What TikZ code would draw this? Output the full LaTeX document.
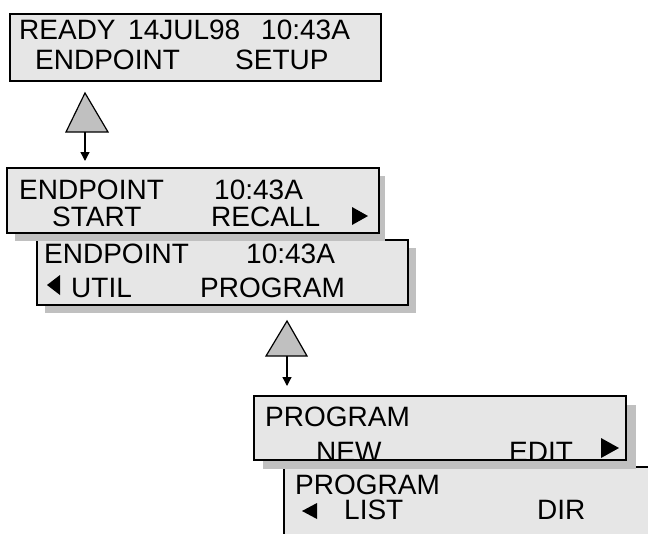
\documentclass[tikz,border=0pt]{standalone}
\usepackage{fontspec}
\setmainfont{Liberation Sans}
\usetikzlibrary{arrows.meta}
\definecolor{lcdfill}{HTML}{E6E6E6}
\definecolor{shade}{HTML}{C0C0C0}
\begin{document}
\begin{tikzpicture}[x=1pt,y=-1pt,
  lcd/.style={fill=lcdfill,draw=black,line width=1.6pt},
  lcdshadow/.style={fill=shade,draw=none},
  txt/.style={anchor=base west,inner sep=0pt,text height=20pt,text depth=0pt,
    font=\fontsize{28}{30}\selectfont},
  navtri/.style={fill=shade,draw=black,line width=1.2pt,line join=miter},
  downarrow/.style={line width=1.3pt,-{Triangle[width=9pt,length=9pt]}},
  cursor/.style={fill=black,draw=none}]
\useasboundingbox (0,0) rectangle (648,533);
\clip (0,0) rectangle (648,533);

% Box 1
\draw[lcd] (10,14) rectangle (381,81);
\node[txt] (b1a) at (19,39) {READY};
\node[txt] (b1b) at (128,39) {14JUL98};
\node[txt] (b1c) at (261,39) {10:43A};
\node[txt] (b1d) at (35,69) {ENDPOINT};
\node[txt] (b1e) at (235,69) {SETUP};

% navigation 1
\draw[navtri] (85,93) -- (108,132) -- (66,132) -- cycle;
\coordinate (t1) at (85,132);
\coordinate (t1end) at (85,161);
\draw[downarrow] (t1) -- (t1end);

% Box 3 (behind box 2)
\fill[lcdshadow] (45,248) rectangle (416,313);
\fill[lcdfill] (37,240) rectangle (408,305);
\node[txt] (b3a) at (44,263) {ENDPOINT};
\node[txt] (b3b) at (246,263) {10:43A};
\fill[cursor] (47,285) -- (60,275) -- (60,295) -- cycle;
\node[txt] (b3c) at (71,297) {UTIL};
\node[txt] (b3d) at (200,297) {PROGRAM};
\draw[lcd,fill=none] (37,240) rectangle (408,305);

% Box 2
\fill[lcdshadow] (15,176) rectangle (385,241);
\fill[lcdfill] (7,168) rectangle (379,233);
\node[txt] (b2a) at (19,199) {ENDPOINT};
\node[txt] (b2b) at (214,199) {10:43A};
\node[txt] (b2c) at (52,226) {START};
\node[txt] (b2d) at (211,226) {RECALL};
\fill[cursor] (368,216) -- (352,207) -- (352,225) -- cycle;
\draw[lcd,fill=none] (7,168) rectangle (379,233);

% navigation 2
\draw[navtri] (287,321) -- (307,356) -- (266,356) -- cycle;
\coordinate (t2) at (287,356);
\coordinate (t2end) at (287,386);
\draw[downarrow] (t2) -- (t2end);

% Box 5 (behind box 4, runs off the page)
\fill[lcdfill] (284,467) rectangle (660,545);
\node[txt] (b5a) at (295,494) {PROGRAM};
\fill[cursor] (302,511) -- (317,503) -- (317,519) -- cycle;
\node[txt] (b5b) at (344,519) {LIST};
\node[txt] (b5c) at (537,519) {DIR};
\draw[lcd,fill=none] (284,467) rectangle (660,545);

% Box 4
\fill[lcdshadow] (263,405) rectangle (636,469);
\fill[lcdfill] (254,396) rectangle (626,460);
\node[txt] (b4a) at (265,426) {PROGRAM};
\node[txt] (b4b) at (316,461) {NEW};
\node[txt] (b4c) at (509,461) {EDIT};
\fill[cursor] (619,448) -- (601,438) -- (601,458) -- cycle;
\draw[lcd,fill=none] (254,396) rectangle (626,460);
\end{tikzpicture}
\end{document}
